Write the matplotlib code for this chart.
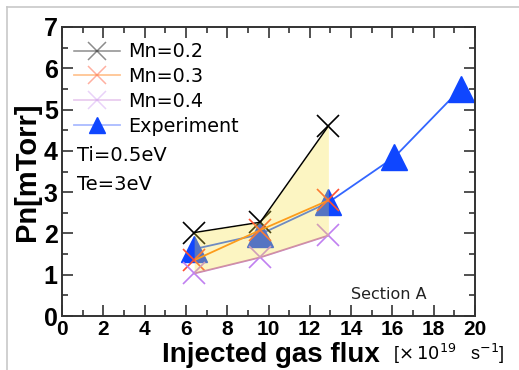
import matplotlib.pyplot as plt
from matplotlib.lines import Line2D
from matplotlib.ticker import MultipleLocator

# Дані
flux_sim = [6.4, 9.6, 12.9]
pn_mn02 = [2.02, 2.27, 4.6]
pn_mn03 = [1.35, 2.08, 2.8]
pn_mn04 = [1.03, 1.42, 1.95]

flux_exp = [6.4, 9.6, 12.9, 16.1, 19.3]
pn_exp = [1.62, 1.98, 2.75, 3.85, 5.5]

legend_labels = ["Mn=0.2", "Mn=0.3", "Mn=0.4", "Experiment"]

fig = plt.figure(figsize=(5.19, 3.70), dpi=100)
ax = fig.add_axes([62 / 519, 1 - 316 / 370, 413 / 519, 289 / 370])

# рамка навколо всього рисунка
fig.add_artist(Line2D([7 / 519, 7 / 519], [0, 1 - 7 / 370], color='#c8c8c8', lw=1.2))
fig.add_artist(Line2D([7 / 519, 1], [1 - 7 / 370, 1 - 7 / 370], color='#c8c8c8', lw=1.2))

ax.plot(flux_exp, pn_exp, color='#3366ff', lw=1.3, marker='^', ms=19,
        mfc='#0f46ff', mec='#0f46ff', zorder=2)
ax.plot(flux_sim, pn_mn02, color='black', lw=1.1, marker='x', ms=16, mew=1.2, zorder=3)
ax.plot(flux_sim, pn_mn03, color='#ff7f10', lw=1.3, marker='x', ms=16, mew=1.2,
        mec='#ff5030', zorder=3)
ax.plot(flux_sim, pn_mn04, color='#c070d0', lw=1.3, marker='x', ms=16, mew=1.2,
        mec='#c080f0', zorder=3)

ax.fill_between(flux_sim, pn_mn04, pn_mn02, color='#f8e137', alpha=0.3, lw=0, zorder=4)

ax.set_xlim(0, 20)
ax.set_ylim(0, 7)
ax.xaxis.set_major_locator(MultipleLocator(2))
ax.xaxis.set_minor_locator(MultipleLocator(1))
ax.yaxis.set_major_locator(MultipleLocator(1))
ax.yaxis.set_minor_locator(MultipleLocator(0.5))
ax.tick_params(which='both', direction='in', top=True, right=True, width=1.2, color='#333333')
ax.tick_params(which='major', length=8)
ax.tick_params(which='minor', length=4)
ax.tick_params(axis='x', pad=3)
ax.tick_params(axis='y', pad=3)
for s in ax.spines.values():
    s.set_linewidth(1.4)
    s.set_color('#333333')

for lab in ax.get_xticklabels():
    lab.set_fontfamily('Liberation Sans')
    lab.set_fontweight('bold')
    lab.set_fontsize(15)
for lab in ax.get_yticklabels():
    lab.set_fontfamily('Liberation Sans')
    lab.set_fontweight('bold')
    lab.set_fontsize(18)

ax.set_ylabel("Pn[mTorr]", fontfamily='Liberation Sans', fontweight='bold', fontsize=21, labelpad=2)
fig.text(380 / 519, 1 - 362 / 370, "Injected gas flux", ha='right', va='baseline',
         fontfamily='Liberation Sans', fontweight='bold', fontsize=20)
fig.text(393 / 519, 1 - 360 / 370, r"[$\times\,10^{19}$   s$^{-1}$]", ha='left', va='baseline',
         fontfamily='Liberation Sans', fontsize=13, math_fontfamily='dejavusans')

handles = [
    Line2D([], [], color='black', lw=1.1, marker='x', ms=13, mew=1.1, alpha=0.45),
    Line2D([], [], color='#ff7f10', lw=1.3, marker='x', ms=13, mew=1.1, mec='#ff5030', alpha=0.45),
    Line2D([], [], color='#c070d0', lw=1.3, marker='x', ms=13, mew=1.1, mec='#c080f0', alpha=0.35),
    Line2D([], [], color='#aabbff', lw=1.3, marker='^', ms=11, mfc='#0f46ff', mec='#0f46ff'),
]
ax.legend(handles, legend_labels, loc='upper left', frameon=False, fontsize=13.8,
          handlelength=2.4, handletextpad=0.4, labelspacing=0.3,
          borderaxespad=0.25, bbox_to_anchor=(0.0, 0.99))

ax.text(0.036, 0.535, "Ti=0.5eV", transform=ax.transAxes, fontsize=14)
ax.text(0.036, 0.435, "Te=3eV", transform=ax.transAxes, fontsize=14)
ax.text(0.70, 0.058, "Section A", transform=ax.transAxes, fontsize=11.5, color='#222222')

fig.savefig('out.png', dpi=100)
